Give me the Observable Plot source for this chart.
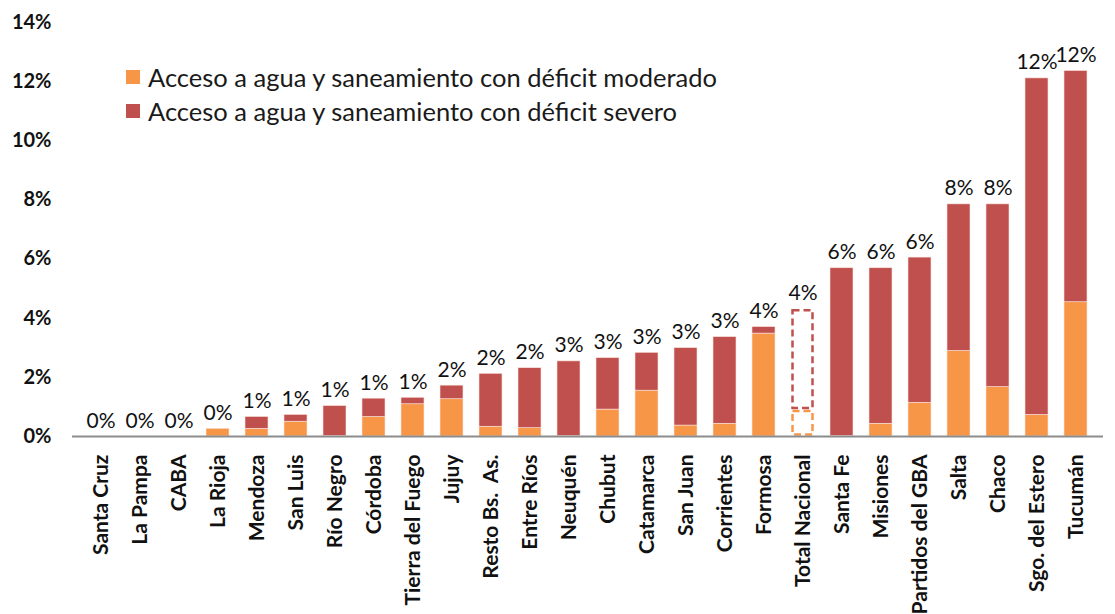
<!DOCTYPE html>
<html>
<head>
<meta charset="utf-8">
<script src="https://cdn.jsdelivr.net/npm/d3@7"></script>
<script src="https://cdn.jsdelivr.net/npm/@observablehq/plot@0.6"></script>
<style>
  html, body { margin: 0; padding: 0; background: #fff; }
  #wrap { position: relative; width: 1115px; height: 614px; font-family: Lato, "Open Sans", sans-serif; }
  #legend { position: absolute; left: 126px; top: 60px; font-size: 25.5px; color: #1a1a1a; line-height: 34px; }
  #legend .row { display: flex; align-items: center; white-space: nowrap; }
  #legend .sw { width: 14px; height: 14px; margin-right: 8px; display: inline-block; }
</style>
</head>
<body>
<div id="wrap"></div>
<script>
const regions = ["Santa Cruz","La Pampa","CABA","La Rioja","Mendoza","San Luis","Río Negro","Córdoba","Tierra del Fuego","Jujuy","Resto Bs.  As.","Entre Ríos","Neuquén","Chubut","Catamarca","San Juan","Corrientes","Formosa","Total Nacional","Santa Fe","Misiones","Partidos del GBA","Salta","Chaco","Sgo. del Estero","Tucumán"];
const moderado = [0,0,0,0.26,0.26,0.50,0.02,0.66,1.09,1.26,0.33,0.28,0.02,0.91,1.55,0.37,0.43,3.48,0.90,0.02,0.43,1.14,2.89,1.67,0.73,4.54];
const severo   = [0,0,0,0,0.40,0.23,1.01,0.62,0.22,0.46,1.79,2.03,2.52,1.74,1.28,2.62,2.93,0.22,3.40,5.67,5.26,4.91,4.96,6.18,11.38,7.82];
const seriesNames = ["Acceso a agua y saneamiento con déficit moderado","Acceso a agua y saneamiento con déficit severo"];
const seriesColors = ["#F79646","#C0504D"];
const yTicks = [0,2,4,6,8,10,12,14];
const highlight = "Total Nacional";

const rows = [];
regions.forEach((r,i) => rows.push({region:r, serie:seriesNames[0], value:moderado[i]}));
regions.forEach((r,i) => rows.push({region:r, serie:seriesNames[1], value:severo[i]}));
const solidRows = rows.filter(d => d.region !== highlight);
const dashedRows = rows.filter(d => d.region === highlight);
const totals = regions.map((r,i) => ({region:r, total: moderado[i] + severo[i]}));

const chart = Plot.plot({
  width: 1115,
  height: 614,
  marginLeft: 72,
  marginRight: 12,
  marginTop: 22,
  marginBottom: 178,
  style: {fontFamily: "Lato, 'Open Sans', sans-serif", color: "#1a1a1a", background: "#fff"},
  x: {domain: regions, paddingInner: 0.42, paddingOuter: 0.21, label: null},
  y: {domain: [0,14], label: null},
  color: {domain: seriesNames, range: seriesColors},
  marks: [
    Plot.barY(solidRows, {x: "region", y: "value", fill: "serie", stroke: "#fbe3dc", strokeWidth: 0.6}),
    Plot.barY(dashedRows, {x: "region", y: "value", fill: "white", stroke: "serie", strokeWidth: 2.5, strokeDasharray: "7,4", inset: 1.5}),
    Plot.ruleY([0], {stroke: "#8c8c8c", strokeWidth: 2}),
    Plot.text(totals, {x: "region", y: "total", text: d => d3.format(".0%")(d.total/100), lineAnchor: "bottom", dy: -9, fontSize: 21, fill: "#111"}),
    Plot.axisY({ticks: yTicks, tickFormat: d => d + "%", tickSize: 0, tickPadding: 21, fontSize: 20, fontWeight: "bold", textAnchor: "end", fill: "#111"}),
    Plot.axisX({tickSize: 0, tickRotate: -90, tickPadding: 18, fontSize: 21, fontWeight: "bold", fill: "#111"})
  ]
});

const wrap = document.getElementById("wrap");
wrap.appendChild(chart);
const legend = document.createElement("div");
legend.id = "legend";
seriesNames.forEach((n,i) => {
  const row = document.createElement("div");
  row.className = "row";
  const sw = document.createElement("span");
  sw.className = "sw";
  sw.style.background = seriesColors[i];
  const t = document.createElement("span");
  t.textContent = n;
  row.appendChild(sw); row.appendChild(t);
  legend.appendChild(row);
});
wrap.appendChild(legend);
</script>
</body>
</html>
